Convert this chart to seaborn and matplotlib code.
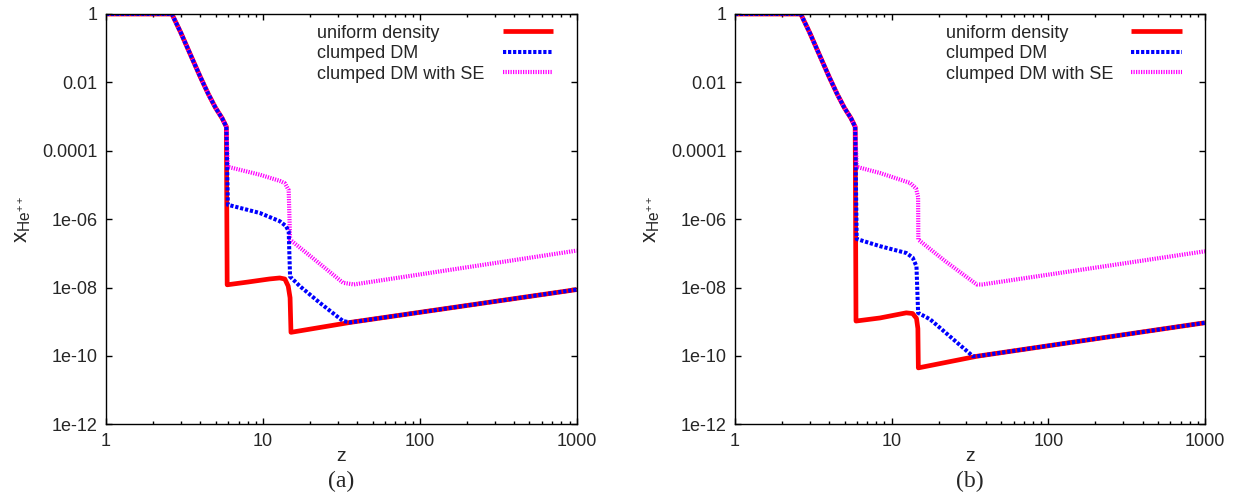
import seaborn as sns
import numpy as np
import matplotlib.pyplot as plt
import pandas as pd

sns.set_style('ticks')
plt.rcParams['font.family'] = ['Liberation Sans', 'DejaVu Sans']
plt.rcParams['mathtext.fontset'] = 'custom'
plt.rcParams['mathtext.rm'] = 'Liberation Sans'
plt.rcParams['mathtext.it'] = 'Liberation Sans'

# shared early part (before reionization of He II)
head_z = [1.0, 2.63, 3.0, 3.5, 4.0, 4.5, 5.0, 5.5, 5.85]
head_lx = [0, 0, -0.55, -1.25, -1.85, -2.35, -2.75, -3.05, -3.3]

# panel (a)
red_a_z = head_z + [5.92, 8.0, 11.0, 12.8, 13.8, 14.5, 14.9, 15.1, 36.0, 1000]
red_a_lx = head_lx + [-7.92, -7.84, -7.75, -7.72, -7.75, -7.96, -8.3, -9.31, -9.02, -8.06]
blue_a_z = head_z + [5.98, 9.56, 12.8, 14.0, 14.6, 14.9, 17.2, 23.1, 32.4, 36.0, 1000]
blue_a_lx = head_lx + [-5.58, -5.82, -6.06, -6.2, -6.35, -7.68, -7.96, -8.45, -8.98, -9.02, -8.06]
mag_a_z = head_z + [5.98, 9.56, 12.8, 13.8, 14.6, 14.9, 22.0, 32.4, 38.0, 1000]
mag_a_lx = head_lx + [-4.47, -4.70, -4.88, -4.95, -5.15, -6.6, -7.23, -7.86, -7.91, -6.92]

# panel (b)
red_b_z = head_z + [5.92, 8.42, 12.4, 13.6, 14.4, 14.7, 14.8, 35.0, 1000]
red_b_lx = head_lx + [-8.98, -8.89, -8.74, -8.76, -8.9, -9.2, -10.35, -10.01, -9.03]
blue_b_z = head_z + [5.98, 8.42, 12.4, 13.6, 14.4, 14.75, 17.6, 33.0, 35.0, 1000]
blue_b_lx = head_lx + [-6.58, -6.79, -6.99, -7.12, -7.38, -8.74, -8.93, -10.01, -10.01, -9.03]
mag_b_z = head_z + [5.98, 8.42, 13.1, 14.3, 14.75, 14.8, 22.0, 34.9, 38.0, 1000]
mag_b_lx = head_lx + [-4.47, -4.65, -4.94, -5.1, -5.35, -6.6, -7.23, -7.91, -7.91, -6.94]

labels = ['uniform density', 'clumped DM', 'clumped DM with SE']
yticks = [1e-12, 1e-10, 1e-8, 1e-6, 1e-4, 1e-2, 1]
yticklabels = ['1e-12', '1e-10', '1e-08', '1e-06', '0.0001', '0.01', '1']
xticks = [1, 10, 100, 1000]
xticklabels = ['1', '10', '100', '1000']
captions = ['(a)', '(b)']

panels = [
    [(red_a_z, red_a_lx), (blue_a_z, blue_a_lx), (mag_a_z, mag_a_lx)],
    [(red_b_z, red_b_lx), (blue_b_z, blue_b_lx), (mag_b_z, mag_b_lx)],
]

fig = plt.figure(figsize=(12.34, 4.94), dpi=100)
ax_a = fig.add_axes([106 / 1234, 1 - 424.3 / 494, 470.7 / 1234, 410.3 / 494])
ax_b = fig.add_axes([735 / 1234, 1 - 424.3 / 494, 470 / 1234, 410.3 / 494])

styles = [
    dict(color='#ff0000', linewidth=3.4, dashes=None),
    dict(color='#0000ff', linewidth=2.9, dashes=(0.8, 0.45)),
    dict(color='#ff00ff', linewidth=3.0, dashes=(0.3, 0.3)),
]
order = [0, 2, 1]

for ax, series, cap in zip([ax_a, ax_b], panels, captions):
    handles = {}
    for i in order:
        z, lx = series[i]
        df = pd.DataFrame({'z': z, 'x': 10 ** np.array(lx, dtype=float)})
        sns.lineplot(data=df, x='z', y='x', estimator=None, sort=False,
                     color=styles[i]['color'], linewidth=styles[i]['linewidth'],
                     ax=ax)
        line = ax.lines[-1]
        if styles[i]['dashes'] is not None:
            line.set_dashes(styles[i]['dashes'])
        line.set_solid_capstyle('butt')
        handles[i] = line
    ax.set_xscale('log')
    ax.set_yscale('log')
    ax.set_xlim(1, 1000)
    ax.set_ylim(1e-12, 1)
    ax.set_yticks(yticks)
    ax.set_yticklabels(yticklabels)
    ax.yaxis.set_minor_locator(plt.NullLocator())
    ax.set_xticks(xticks)
    ax.set_xticklabels(xticklabels)
    ax.tick_params(which='both', direction='in', top=True, right=True,
                   labelsize=13, width=1.0, color='black')
    ax.tick_params(which='major', length=4.5, pad=6)
    ax.tick_params(which='minor', length=2.3)
    for s in ax.spines.values():
        s.set_visible(True)
        s.set_linewidth(1.0)
        s.set_color('black')
    ax.set_xlabel('z', fontsize=14, labelpad=-1)
    ax.set_ylabel(r'x$_{\mathrm{He}^{++}}$', fontsize=16, labelpad=7)
    leg = ax.legend([handles[0], handles[1], handles[2]], labels, loc='upper right',
                    bbox_to_anchor=(0.966, 0.992), frameon=False, fontsize=13,
                    markerfirst=False, handlelength=2.8, handletextpad=1.0,
                    labelspacing=0.2, borderaxespad=0, borderpad=0.4)
    # gnuplot-style key: text left-justified, samples lined up on the right
    col = leg._legend_handle_box.get_children()[0]
    col.align = 'left'
    col.width = 236
    for row in col.get_children():
        row.mode = 'expand'
    pos = ax.get_position()
    fig.text(pos.x0 + pos.width / 2, 1 - 481 / 494, cap, ha='center', va='center',
             fontsize=17, family='Liberation Serif')

fig.savefig('out.png', dpi=100)
